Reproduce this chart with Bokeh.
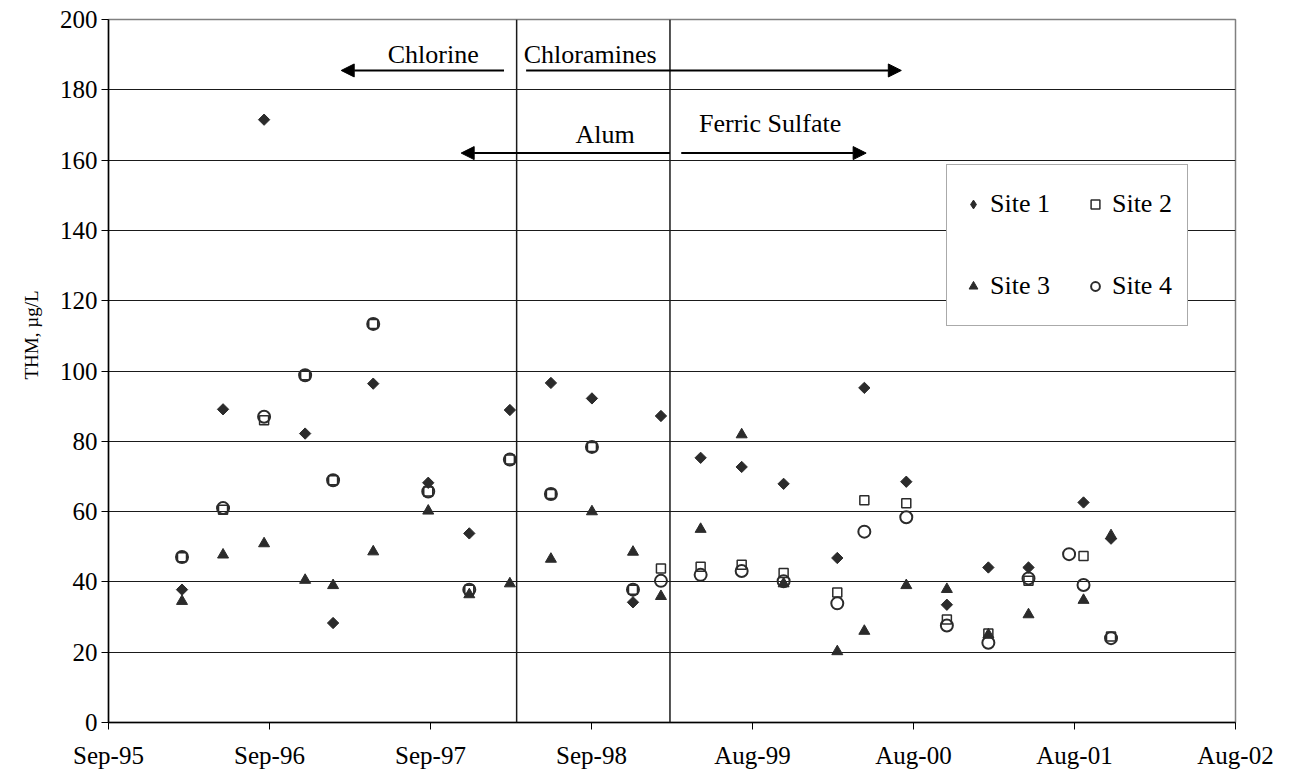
import numpy as np
import pandas as pd
from bokeh.plotting import figure
from bokeh.models import (Range1d, FixedTicker, Span, Arrow, NormalHead, Label,
                          Legend, LegendItem, Title)
from bokeh.embed import file_html
from bokeh.resources import INLINE

# ---------------- data ----------------
sample_dates = ["1996-03-11", "1996-06-10", "1996-09-09", "1996-12-09", "1997-02-09",
                "1997-05-09", "1997-09-08", "1997-12-08", "1998-03-08", "1998-06-07",
                "1998-09-06", "1998-12-06", "1999-02-06", "1999-05-05", "1999-08-04",
                "1999-11-05", "2000-03-03", "2000-05-02", "2000-08-03", "2000-11-01",
                "2001-02-01", "2001-05-01", "2001-07-30", "2001-08-31", "2001-10-31"]
nan = float("nan")
site1 = [37.8, 89.1, 171.5, 82.2, 28.3, 96.4, 68.2, 53.8, 88.9, 96.6, 92.2, 34.2, 87.2,
         75.3, 72.7, 67.9, 46.8, 95.2, 68.5, 33.5, 44.1, 44.1, nan, 62.6, 52.3]
site2 = [47.0, 60.5, 86.0, 98.8, 68.9, 113.4, 65.7, 37.8, 74.8, 65.0, 78.4, 37.8, 43.8,
         44.3, 44.9, 42.5, 37.0, 63.2, 62.4, 29.3, 25.3, 40.3, nan, 47.4, 24.5]
site3 = [34.5, 47.7, 50.9, 40.5, 39.0, 48.6, 60.2, 36.4, 39.5, 46.5, 60.0, 48.5, 35.9,
         55.0, 81.9, 39.5, 20.2, 26.0, 39.0, 37.9, 25.0, 30.7, nan, 34.8, 53.2]
site4 = [47.1, 61.0, 87.0, 98.8, 68.9, 113.4, 65.7, 37.8, 74.8, 65.0, 78.4, 37.8, 40.3,
         42.0, 43.1, 40.2, 33.9, 54.3, 58.4, 27.6, 22.7, 41.0, 47.9, 39.1, 24.0]
series_names = ["Site 1", "Site 2", "Site 3", "Site 4"]

tick_dates = ["1995-09-30", "1996-09-21", "1997-09-13", "1998-09-05",
              "1999-08-28", "2000-08-19", "2001-08-11", "2002-08-03"]
tick_labels = ["Sep-95", "Sep-96", "Sep-97", "Sep-98", "Aug-99", "Aug-00", "Aug-01", "Aug-02"]
y_ticks = [0, 20, 40, 60, 80, 100, 120, 140, 160, 180, 200]
y_title = "THM, µg/L"

# treatment changes
change_dates = ["1998-03-23", "1999-02-26"]
arrow_texts = ["Chlorine", "Chloramines", "Alum", "Ferric Sulfate"]
arrow_from = ["1998-02-23", "1998-04-13", "1999-02-26", "1999-03-23"]
arrow_to = ["1997-02-27", "2000-07-23", "1997-11-20", "2000-05-06"]
arrow_y = [185.5, 185.5, 162.0, 162.0]
text_x = ["1997-09-19", "1998-09-02", "1998-10-05", "1999-10-06"]
text_y = [190.0, 190.0, 167.3, 170.4]


def ms(s):
    return pd.Timestamp(s).value / 1e6


x = np.array([ms(d) for d in sample_dates])
ticks = [ms(d) for d in tick_dates]

FONT = "Liberation Serif"
INK = "#2b2b2b"

p = figure(frame_width=1127, frame_height=703,
           x_range=Range1d(ticks[0], ticks[-1]), y_range=Range1d(0, 200),
           output_backend="svg", toolbar_location=None,
           min_border_left=108, min_border_top=19, min_border_right=40, min_border_bottom=36)

p.background_fill_color = "white"
p.border_fill_color = "white"
p.outline_line_color = "#808080"
p.outline_line_width = 1.5

# axes
p.xaxis.ticker = FixedTicker(ticks=ticks)
p.xaxis.major_label_overrides = {t: l for t, l in zip(ticks, tick_labels)}
p.yaxis.ticker = FixedTicker(ticks=y_ticks)
for ax in (p.xaxis[0], p.yaxis[0]):
    ax.axis_line_color = "black"
    ax.axis_line_width = 1.5
    ax.major_tick_line_color = "black"
    ax.major_tick_line_width = 1
    ax.major_tick_out = 7
    ax.major_tick_in = 0
    ax.minor_tick_line_color = None
    ax.major_label_text_font = FONT
    ax.major_label_text_font_size = "25px"
    ax.major_label_text_color = "black"
p.xaxis.major_label_standoff = 12
p.yaxis.major_label_standoff = 4

# y-axis title as a left-side title, starting ~343 px above the frame bottom as in the original
p.add_layout(Title(text=y_title, align="left", offset=343, standoff=29,
                   text_font=FONT, text_font_size="19px", text_font_style="normal",
                   text_color="black"), "left")

p.xgrid.grid_line_color = None
p.ygrid.grid_line_color = "#1a1a1a"
p.ygrid.grid_line_width = 1

# vertical change lines
for d in change_dates:
    p.add_layout(Span(location=ms(d), dimension="height", line_color="#1a1a1a", line_width=1.5))

# arrows and texts
for a0, a1, ay in zip(arrow_from, arrow_to, arrow_y):
    p.add_layout(Arrow(end=NormalHead(size=13, fill_color="black", line_color="black", line_width=1),
                       x_start=ms(a0), y_start=ay, x_end=ms(a1), y_end=ay,
                       line_color="black", line_width=2))
for t, tx, ty in zip(arrow_texts, text_x, text_y):
    p.add_layout(Label(x=ms(tx), y=ty, text=t, text_font=FONT, text_font_size="26px",
                       text_align="center", text_baseline="middle", text_color="black"))

# series (Site 1 key glyph drawn first, hidden beneath the rotated squares;
# legend glyphs ignore marker angle, so it supplies the diamond for the legend)
r1_key = p.scatter(x, site1, marker="diamond", size=9, fill_color=INK, line_color=INK)
r1 = p.scatter(x, site1, marker="square", angle=np.pi / 4, size=8, fill_color=INK, line_color=INK)
r2 = p.scatter(x, site2, marker="square", size=9, fill_color=None, line_color=INK, line_width=1.5)
r3 = p.scatter(x, site3, marker="triangle", size=11, fill_color=INK, line_color=INK)
r4 = p.scatter(x, site4, marker="circle", size=12, fill_color=None, line_color=INK, line_width=2)

rends = dict(zip(series_names, [r1_key, r2, r3, r4]))
legend_order = ["Site 1", "Site 3", "Site 2", "Site 4"]   # column-major -> rows: 1 2 / 3 4
legend = Legend(items=[LegendItem(label=n, renderers=[rends[n]]) for n in legend_order],
                location=(838, 396), ncols=2, orientation="vertical")
legend.label_text_font = FONT
legend.label_text_font_size = "26px"
legend.label_text_color = "black"
legend.glyph_width = 22
legend.glyph_height = 48
legend.label_height = 48
legend.label_standoff = 6
legend.spacing = 34
legend.padding = 15
legend.margin = 0
legend.border_line_color = "#555555"
legend.border_line_width = 1.5
legend.background_fill_color = "white"
legend.background_fill_alpha = 1
p.add_layout(legend, "center")

open("out.html", "w").write(file_html(p, INLINE))
